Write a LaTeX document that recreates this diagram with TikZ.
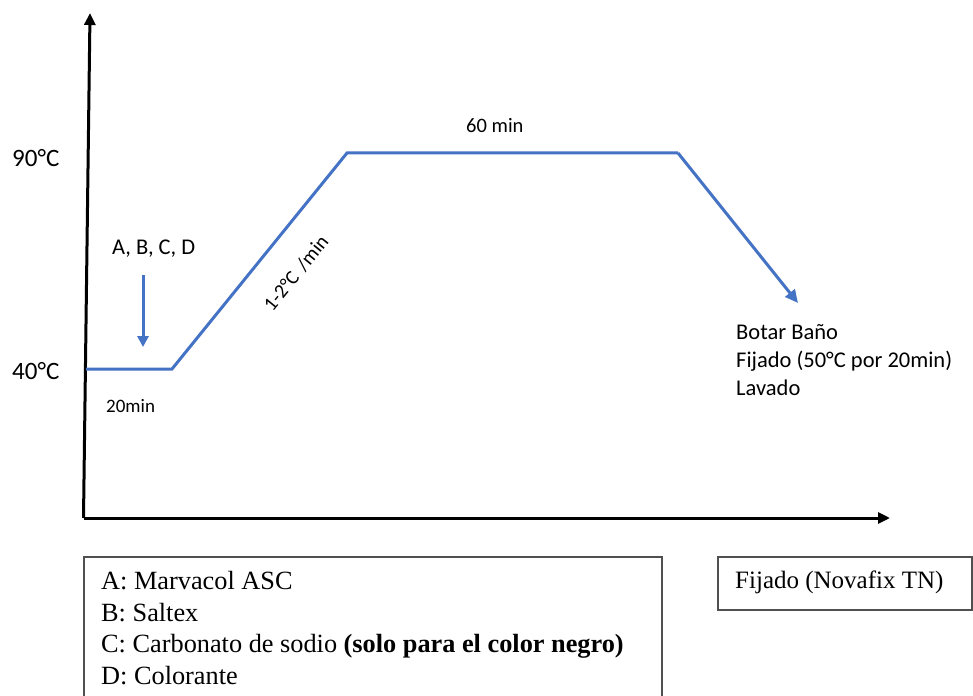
\documentclass[tikz,border=0pt]{standalone}
\usepackage{fontspec}
\setmainfont{Liberation Serif}
\newfontfamily\calib{Carlito}
\usetikzlibrary{arrows.meta}
\definecolor{pblue}{HTML}{4472C4}
\definecolor{boxgray}{HTML}{505050}
\begin{document}
\begin{tikzpicture}[x=1pt,y=-1pt,
  axisline/.style={line width=3pt, -{Triangle[length=12pt,width=11pt]}},
  curve/.style={draw=pblue, line width=3pt, line join=miter},
  bluearrow/.style={draw=pblue, line width=3pt, -{Triangle[length=13pt,width=12pt]}},
  lbl/.style={font=\calib\fontsize{22.5}{27}\selectfont, inner sep=0pt, anchor=base west},
  biglbl/.style={font=\calib\fontsize{25}{30}\selectfont, inner sep=0pt, anchor=base west},
  smalllbl/.style={font=\calib\fontsize{19}{23}\selectfont, inner sep=0pt, anchor=base west},
  legtext/.style={font=\fontsize{26.3}{32}\selectfont, inner sep=0pt, anchor=base west},
  legbox/.style={draw=boxgray, line width=1.6pt, inner sep=0pt}
]
\useasboundingbox (0,0) rectangle (973,695);
\clip (0,0) rectangle (973,695);

% axes
\coordinate (o) at (83.5,518);
\coordinate (ytop) at (90,13);
\coordinate (xend) at (890,518);
\draw[axisline] (o) -- (ytop);
\draw[axisline] (o) -- (xend);

% temperature profile
\coordinate (s) at (86,369);
\coordinate (c1) at (172,369);
\coordinate (p1) at (347,153);
\coordinate (p2) at (678,153);
\coordinate (e) at (798,303);
\draw[curve] (s) -- (c1) -- (p1) -- (p2);
\draw[bluearrow] (p2) -- (e);

% addition arrow
\coordinate (d1) at (143,275);
\coordinate (d2) at (143,347);
\draw[bluearrow, -{Triangle[length=11pt,width=11pt]}] (d1) -- (d2);

% labels
\node[biglbl] (t90) at (12,166) {90°C};
\node[biglbl] (t40) at (12,379) {40°C};
\node[lbl] (abcd) at (112,254) {A, B, C, D};
\node[smalllbl] (m20) at (106,412) {20min};
\node[font=\calib\fontsize{20.5}{24}\selectfont, inner sep=0pt, anchor=base west] (m60) at (466,133) {60 min};
\node[font=\calib\fontsize{20}{24}\selectfont, inner sep=0pt, rotate=51] (rate) at (296,273) {1-2°C\hspace{0.15em} /min};
\node[lbl] (b1) at (736,339) {Botar Baño};
\node[lbl] (b2) at (736,367) {Fijado (50°C por 20min)};
\node[lbl] (b3) at (736,395) {Lavado};

% legend box
\node[legbox, minimum width=578pt, minimum height=160pt, anchor=north west] (leg) at (83,556) {};
\node[legtext] (l1) at (101,589) {A: Marvacol ASC};
\node[legtext] (l2) at (101,621) {B: Saltex};
\node[legtext] (l3) at (101,652) {C: Carbonato de sodio \textbf{(solo para el color negro)}};
\node[legtext] (l4) at (101,684) {D: Colorante};

% fixing box
\node[legbox, minimum width=254pt, minimum height=53pt, anchor=north west] (fix) at (717,556) {};
\node[font=\fontsize{25}{30}\selectfont, inner sep=0pt, anchor=base west] (fixt) at (735,588) {Fijado (Novafix TN)};
\end{tikzpicture}
\end{document}
